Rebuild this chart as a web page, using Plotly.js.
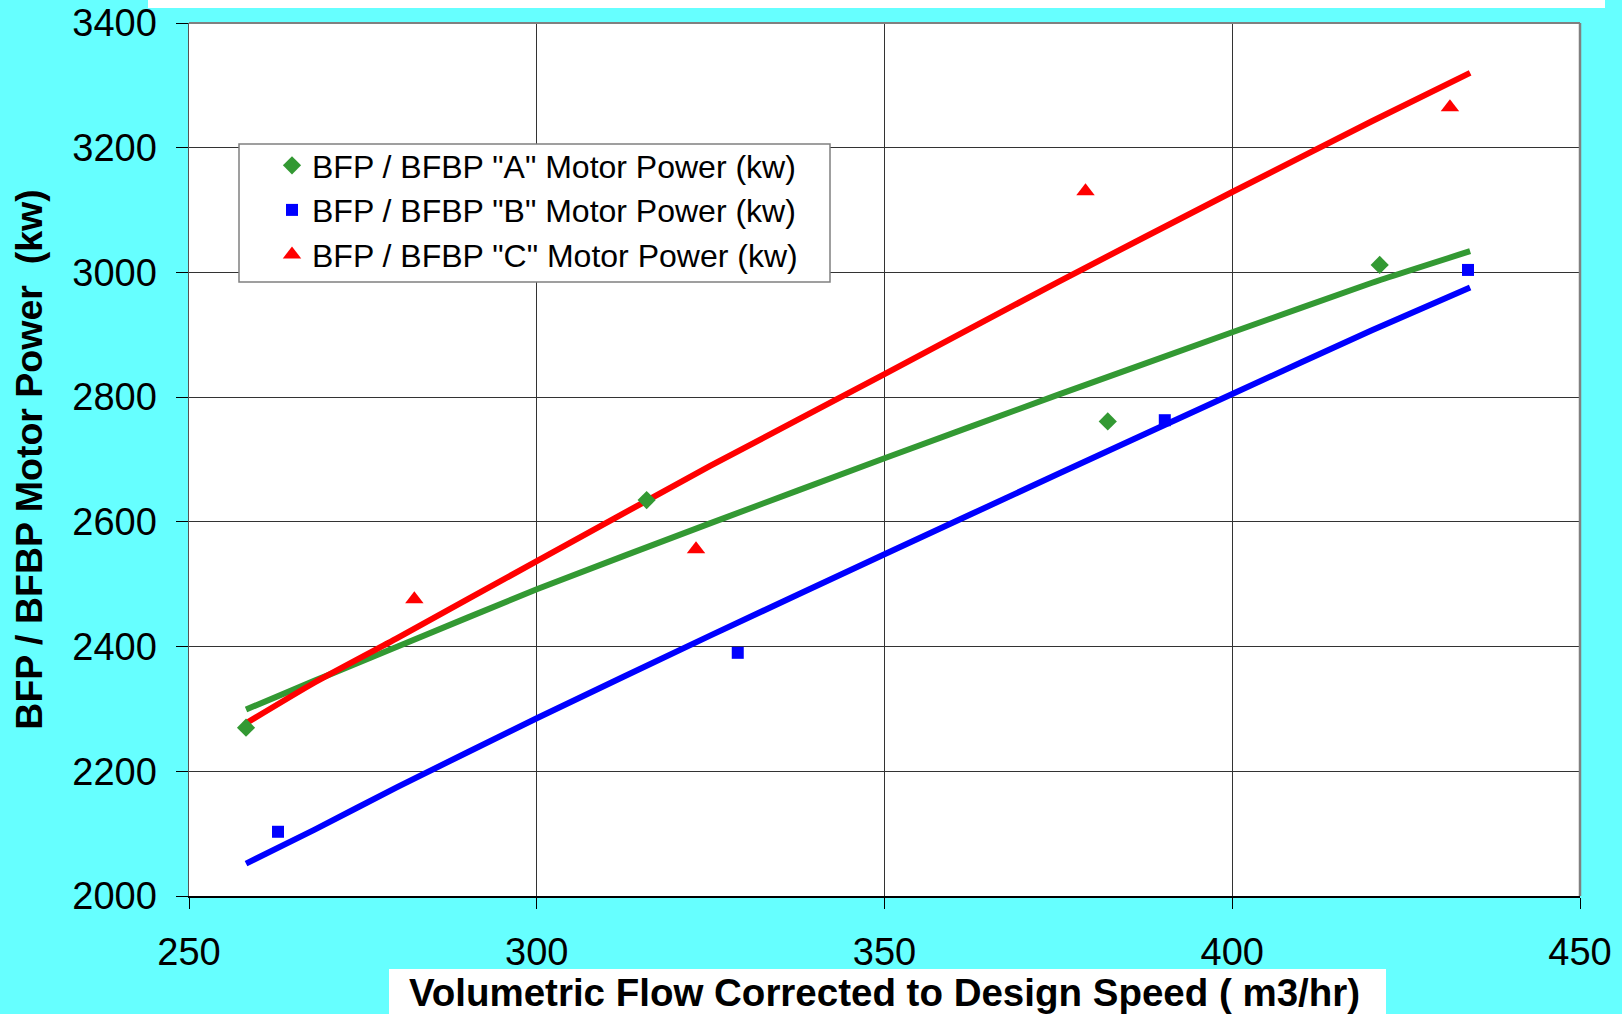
<!DOCTYPE html>
<html>
<head>
<meta charset="utf-8">
<script src="https://cdn.plot.ly/plotly-3.0.1.min.js"></script>
<style>
html,body{margin:0;padding:0;background:#66FFFF;}
#chart{width:1622px;height:1014px;}
</style>
</head>
<body>
<div id="chart"></div>
<script>
// Measured points
const xA = [258.2, 315.8, 382.1, 421.2];
const yA = [2270, 2635, 2761, 3012];
const xB = [262.8, 328.9, 390.3, 433.9];
const yB = [2103, 2390, 2763, 3004];
const xC = [282.4, 322.9, 378.9, 431.3];
const yC = [2476, 2556, 3130, 3265];

// Fitted curves
const fitX = [258.2, 268, 280, 300, 325, 350, 375, 400, 420, 434.2];
const fitA = [2299, 2345, 2400, 2492, 2598, 2702, 2804, 2904, 2983, 3034];
const fitB = [2052, 2106, 2175, 2285, 2418, 2548, 2677, 2805, 2907, 2976];
const fitC = [2277, 2342, 2414, 2537, 2690, 2837, 2985, 3129, 3242, 3320];

const seriesNames = [
  'BFP / BFBP "A" Motor Power (kw)',
  'BFP / BFBP "B" Motor Power (kw)',
  'BFP / BFBP "C" Motor Power (kw)'
];
const xTicks = [250, 300, 350, 400, 450];
const yTicks = [2000, 2200, 2400, 2600, 2800, 3000, 3200, 3400];

const GREEN = '#339933', BLUE = '#0000FF', RED = '#FF0000';
const FONT = 'Arial, "Liberation Sans", sans-serif';

const traces = [
  {x: fitX, y: fitA, mode: 'lines', line: {color: GREEN, width: 6, shape: 'spline', smoothing: 0.5}, showlegend: false, hoverinfo: 'skip'},
  {x: fitX, y: fitB, mode: 'lines', line: {color: BLUE, width: 6, shape: 'spline', smoothing: 0.5}, showlegend: false, hoverinfo: 'skip'},
  {x: fitX, y: fitC, mode: 'lines', line: {color: RED, width: 6, shape: 'spline', smoothing: 0.5}, showlegend: false, hoverinfo: 'skip'},
  {x: xA, y: yA, mode: 'markers', name: seriesNames[0], marker: {symbol: 'diamond', size: 14, color: GREEN}},
  {x: xB, y: yB, mode: 'markers', name: seriesNames[1], marker: {symbol: 'square', size: 12, color: BLUE}},
  {x: xC, y: yC, mode: 'markers', name: seriesNames[2], marker: {symbol: 'triangle-up', size: 16, color: RED}}
];

const W = 1622, H = 1014, L = 189, R = 42, T = 23, B = 118;
const pw = W - L - R, ph = H - T - B;
function px(xp){ return (xp - L) / pw; }
function py(yp){ return (H - B - yp) / ph; }

const layout = {
  width: W, height: H,
  margin: {l: L, r: R, t: T, b: B, pad: 0},
  paper_bgcolor: '#66FFFF',
  plot_bgcolor: '#FFFFFF',
  font: {family: FONT, color: '#000000'},
  showlegend: true,
  hovermode: false,
  xaxis: {
    range: [250, 450], tickvals: xTicks, ticktext: xTicks.map(String),
    showgrid: true, gridcolor: '#333333', gridwidth: 1,
    zeroline: false, showline: true, linecolor: '#000000', linewidth: 1.5,
    ticks: 'outside', ticklen: 11, tickcolor: '#000000', tickwidth: 1,
    tickfont: {size: 38, family: FONT, color: '#000000'},
    ticklabelstandoff: 11,
    title: {text: 'Volumetric Flow Corrected to Design Speed ( m3/hr)', font: {size: 38.5, family: FONT, color: '#000000', weight: 'bold'}, standoff: 5},
    automargin: false
  },
  yaxis: {
    range: [2000, 3400], tickvals: yTicks, ticktext: yTicks.map(String),
    showgrid: true, gridcolor: '#333333', gridwidth: 1,
    zeroline: false, showline: true, linecolor: '#555555', linewidth: 1.5,
    ticks: 'outside', ticklen: 12, tickcolor: '#000000', tickwidth: 1,
    tickfont: {size: 38, family: FONT, color: '#000000'},
    ticklabelstandoff: 11,
    title: {text: 'BFP / BFBP Motor Power  (kw)', font: {size: 37.5, family: FONT, color: '#000000', weight: 'bold'}, standoff: 18},
    automargin: false
  },
  legend: {
    x: px(272), y: py(138), xanchor: 'left', yanchor: 'top',
    bgcolor: 'rgba(0,0,0,0)', borderwidth: 0,
    font: {size: 32, family: FONT, color: '#000000'},
    tracegroupgap: 0
  },
  shapes: [
    // top white strip
    {type: 'rect', xref: 'paper', yref: 'paper', x0: px(148), x1: px(1605), y0: py(0), y1: py(8), fillcolor: '#FFFFFF', line: {width: 0}, layer: 'above'},
    // x title white box
    {type: 'rect', xref: 'paper', yref: 'paper', x0: px(389), x1: px(1386), y0: py(969), y1: py(1014), fillcolor: '#FFFFFF', line: {width: 0}, layer: 'above'},
    // top and right plot borders
    {type: 'line', xref: 'paper', yref: 'paper', x0: 0, x1: 1, y0: 1, y1: 1, line: {color: '#808080', width: 2}, layer: 'above'},
    {type: 'line', xref: 'paper', yref: 'paper', x0: 1, x1: 1, y0: 0, y1: 1, line: {color: '#808080', width: 2.5}, layer: 'above'},
    // legend box
    {type: 'rect', xref: 'paper', yref: 'paper', x0: px(239), x1: px(830), y0: py(144), y1: py(282), fillcolor: '#FFFFFF', line: {color: '#808080', width: 1.5}, layer: 'above'}
  ]
};

Plotly.newPlot('chart', traces, layout, {displayModeBar: false, staticPlot: true});
</script>
</body>
</html>
